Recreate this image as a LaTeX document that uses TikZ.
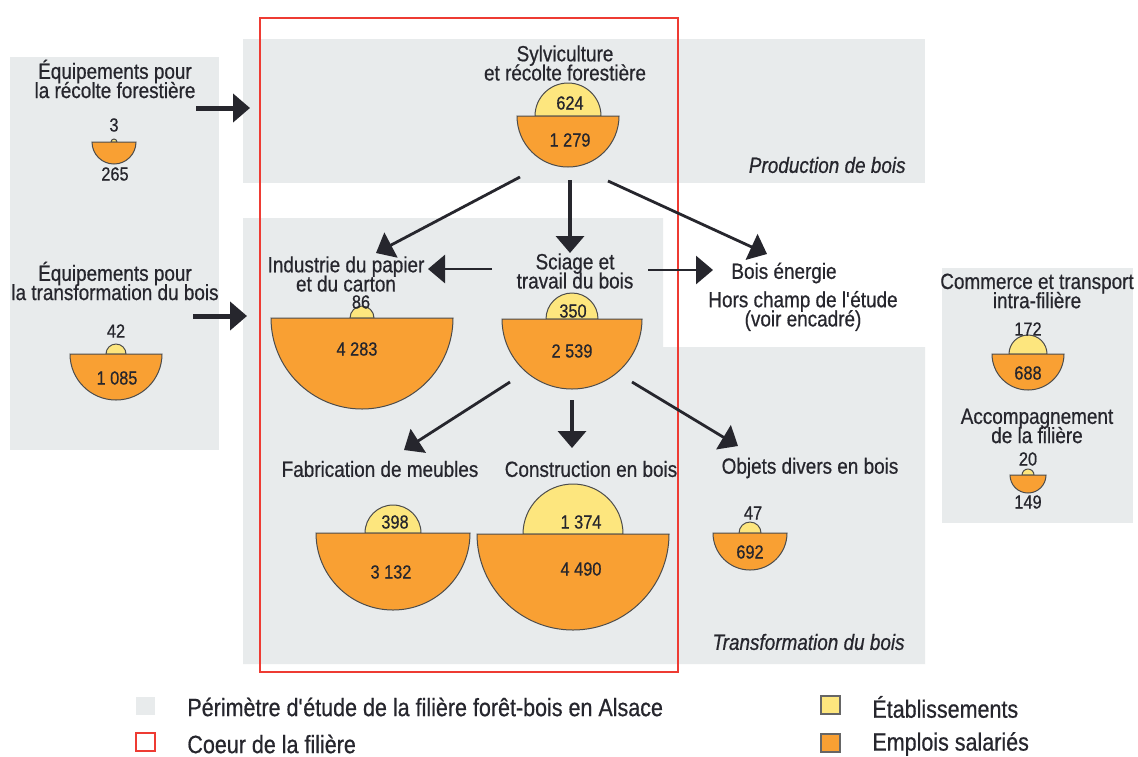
\documentclass[tikz,border=0pt]{standalone}
\usepackage{fontspec}
\setmainfont{Liberation Sans}[FakeStretch=0.86,FakeBold=0.6]
\usetikzlibrary{arrows.meta,positioning}
\definecolor{panelgrey}{HTML}{E8EBEC}
\definecolor{etabyellow}{HTML}{FDE67E}
\definecolor{emplorange}{HTML}{F9A033}
\definecolor{coeurred}{HTML}{EE3B33}
\definecolor{inkdark}{HTML}{26262D}

\begin{document}
\begin{tikzpicture}[x=0.5pt,y=0.5pt,>={Triangle[length=8.5pt,width=14pt]},
  every node/.style={text=inkdark,inner sep=0pt},
  boxtitle/.style={align=center,font=\fontsize{11}{9.6}\selectfont,
    execute at begin node={\lineskiplimit=-20pt\relax}},
  numlabel/.style={font=\fontsize{9.5}{10}\selectfont},
  zonelabel/.style={font=\fontsize{11}{12}\selectfont\itshape,anchor=east},
  legendtext/.style={font=\fontsize{12.5}{13}\selectfont,anchor=west},
  keybox/.style={minimum width=9.5pt,minimum height=9pt,line width=1pt},
  etab/.style={fill=etabyellow,draw=black!70,line width=0.5pt},
  empl/.style={fill=emplorange,draw=black!70,line width=0.5pt},
  flow/.style={->,draw=inkdark,line width=1.4pt},
  inflow/.style={->,draw=inkdark,line width=2.5pt}]

\useasboundingbox[fill=white] (0,0) rectangle (1138,-756);

% panels
\fill[panelgrey] (10,-57) rectangle (219,-450);
\fill[panelgrey] (243,-39) rectangle (925,-183);
\fill[panelgrey] (243,-218) -- (663,-218) -- (663,-347) -- (925,-347) -- (925,-664) -- (243,-664) -- cycle;
\fill[panelgrey] (942,-268) rectangle (1133,-523);
\draw[coeurred,line width=1.3pt] (260,-18) rectangle (678,-672);

\node[zonelabel] (prod) at (906,-165) {Production de bois};
\node[zonelabel] (transf) at (905,-642) {Transformation du bois};

% centres of the half discs
\coordinate (recolte) at (114,-142);
\coordinate (equip) at (116,-354);
\coordinate (sylvi) at (568,-116);
\coordinate (papier) at (362,-318);
\coordinate (sciage) at (572,-319);
\coordinate (meubles) at (393,-533);
\coordinate (constr) at (573,-534);
\coordinate (objets) at (750,-533);
\coordinate (commerce) at (1028,-354);
\coordinate (accomp) at (1028,-475);

\draw[etab] (recolte) ++(3,0) arc[start angle=0,end angle=180,radius=3] -- cycle;
\draw[empl] (recolte) ++(22,0) arc[start angle=0,end angle=-180,radius=22] -- cycle;
\draw[etab] (equip) ++(10,0) arc[start angle=0,end angle=180,radius=10] -- cycle;
\draw[empl] (equip) ++(46,0) arc[start angle=0,end angle=-180,radius=46] -- cycle;
\draw[etab] (sylvi) ++(33,0) arc[start angle=0,end angle=180,radius=33] -- cycle;
\draw[empl] (sylvi) ++(51,0) arc[start angle=0,end angle=-180,radius=51] -- cycle;
\draw[etab] (papier) ++(12,0) arc[start angle=0,end angle=180,radius=12] -- cycle;
\draw[empl] (papier) ++(91,0) arc[start angle=0,end angle=-180,radius=91] -- cycle;
\draw[etab] (sciage) ++(26,0) arc[start angle=0,end angle=180,radius=26] -- cycle;
\draw[empl] (sciage) ++(70,0) arc[start angle=0,end angle=-180,radius=70] -- cycle;
\draw[etab] (meubles) ++(28,0) arc[start angle=0,end angle=180,radius=28] -- cycle;
\draw[empl] (meubles) ++(77,0) arc[start angle=0,end angle=-180,radius=77] -- cycle;
\draw[etab] (constr) ++(50,0) arc[start angle=0,end angle=180,radius=50] -- cycle;
\draw[empl] (constr) ++(96,0) arc[start angle=0,end angle=-180,radius=96] -- cycle;
\draw[etab] (objets) ++(11,0) arc[start angle=0,end angle=180,radius=11] -- cycle;
\draw[empl] (objets) ++(37,0) arc[start angle=0,end angle=-180,radius=37] -- cycle;
\draw[etab] (commerce) ++(19,0) arc[start angle=0,end angle=180,radius=19] -- cycle;
\draw[empl] (commerce) ++(36,0) arc[start angle=0,end angle=-180,radius=36] -- cycle;
\draw[etab] (accomp) ++(6,0) arc[start angle=0,end angle=180,radius=6] -- cycle;
\draw[empl] (accomp) ++(18,0) arc[start angle=0,end angle=-180,radius=18] -- cycle;

% titles
\node[boxtitle] (t-recolte) at (115,-79) {Équipements pour\\la récolte forestière};
\node[boxtitle] (t-equip) at (115,-281) {Équipements pour\\la transformation du bois};
\node[boxtitle] (t-sylvi) at (565,-63) {Sylviculture\\et récolte forestière};
\node[boxtitle] (t-papier) at (346,-274) {Industrie du papier\\et du carton};
\node[boxtitle] (t-sciage) at (575,-271) {Sciage et\\travail du bois};
\node[boxtitle] (t-energie) at (784,-273) {Bois énergie};
\node[boxtitle] (t-hors) at (803,-311) {Hors champ de l\textquotesingle étude\\(voir encadré)};
\node[boxtitle] (t-commerce) at (1037,-291) {Commerce et transport\\intra-filière};
\node[boxtitle] (t-accomp) at (1037,-426) {Accompagnement\\de la filière};
\node[boxtitle] (t-meubles) at (380,-469) {Fabrication de meubles};
\node[boxtitle] (t-constr) at (591,-469) {Construction en bois};
\node[boxtitle] (t-objets) at (810,-468) {Objets divers en bois};

% counts
\node[numlabel] (recolte-e) at (114,-125) {3};
\node[numlabel] (recolte-s) at (115,-174) {265};
\node[numlabel] (equip-e) at (116,-331) {42};
\node[numlabel] (equip-s) at (117,-378) {1 085};
\node[numlabel] (sylvi-e) at (570,-103) {624};
\node[numlabel] (sylvi-s) at (570,-140) {1 279};
\node[numlabel] (papier-e) at (361,-302) {86};
\node[numlabel] (papier-s) at (357,-349) {4 283};
\node[numlabel] (sciage-e) at (573,-311) {350};
\node[numlabel] (sciage-s) at (572,-351) {2 539};
\node[numlabel] (meubles-e) at (395,-522) {398};
\node[numlabel] (meubles-s) at (391,-572) {3 132};
\node[numlabel] (constr-e) at (581,-522) {1 374};
\node[numlabel] (constr-s) at (581,-569) {4 490};
\node[numlabel] (objets-e) at (753,-513) {47};
\node[numlabel] (objets-s) at (750,-552) {692};
\node[numlabel] (commerce-e) at (1028,-329) {172};
\node[numlabel] (commerce-s) at (1028,-373) {688};
\node[numlabel] (accomp-e) at (1028,-459) {20};
\node[numlabel] (accomp-s) at (1028,-502) {149};

% arrow ends
\coordinate (in1a) at (196,-108);
\coordinate (in1b) at (250,-108);
\coordinate (in2a) at (193,-316);
\coordinate (in2b) at (247,-316);
\coordinate (sy-out1) at (520,-177);
\coordinate (sy-out2) at (570,-180);
\coordinate (sy-out3) at (608,-181);
\coordinate (pa-in) at (376,-253);
\coordinate (sc-in) at (570,-253);
\coordinate (en-in1) at (767,-254);
\coordinate (sc-outl) at (492,-269);
\coordinate (pa-in2) at (428,-269);
\coordinate (sc-outr) at (648,-270);
\coordinate (en-in2) at (713,-270);
\coordinate (sc-out1) at (510,-382);
\coordinate (sc-out2) at (572,-400);
\coordinate (sc-out3) at (632,-382);
\coordinate (me-in) at (404,-450);
\coordinate (co-in) at (572,-448);
\coordinate (ob-in) at (738,-446);

\draw[inflow] (in1a) -- (in1b);
\draw[inflow] (in2a) -- (in2b);
\draw[flow] (sy-out1) -- (pa-in);
\draw[flow,line width=1.8pt] (sy-out2) -- (sc-in);
\draw[flow] (sy-out3) -- (en-in1);
\draw[flow] (sc-outl) -- (pa-in2);
\draw[flow] (sc-outr) -- (en-in2);
\draw[flow] (sc-out1) -- (me-in);
\draw[flow,line width=1.8pt] (sc-out2) -- (co-in);
\draw[flow] (sc-out3) -- (ob-in);

% legend
\node[keybox,fill=panelgrey] (k-perim) at (145,-706) {};
\node[keybox,draw=coeurred,fill=white] (k-coeur) at (145,-742) {};
\node[keybox,draw=black!60,fill=etabyellow] (k-etab) at (830,-705) {};
\node[keybox,draw=black!60,fill=emplorange] (k-empl) at (830,-743) {};
\node[legendtext] (l-perim) at (187,-707) {Périmètre d\textquotesingle étude de la filière forêt-bois en Alsace};
\node[legendtext] (l-coeur) at (187,-744) {Coeur de la filière};
\node[legendtext] (l-etab) at (872,-707) {Établissements};
\node[legendtext] (l-empl) at (872,-744) {Emplois salariés};

\end{tikzpicture}
\end{document}
